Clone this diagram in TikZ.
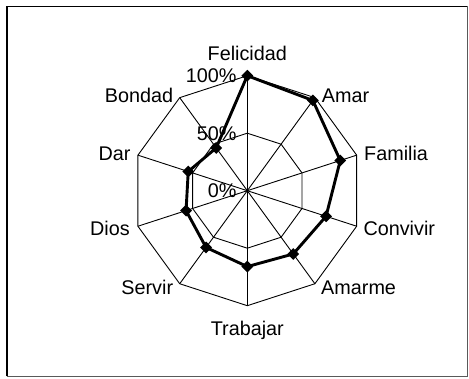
\documentclass[tikz,border=0pt]{standalone}
\usepackage{fontspec}
\setmainfont{Liberation Sans}
\usetikzlibrary{shapes.geometric,calc}
\begin{document}
\begin{tikzpicture}[x=1pt,y=1pt,
  gridline/.style={line width=0.9pt, black},
  dataline/.style={line width=2.9pt, black, line join=round},
  marker/.style={diamond, fill=black, inner sep=0pt, minimum width=12pt, minimum height=12pt},
  lbl/.style={font=\fontsize{19.8}{22}\selectfont, inner sep=0pt, text height=14pt, text depth=0pt},
]
\useasboundingbox (0,0) rectangle (469,-379);
\draw[black, line width=1.2pt] (7,-376.5) -- (7,-6.5) -- (467.5,-6.5);
\draw[black!65, line width=1.2pt] (467.5,-6.5) -- (467.5,-376.5) -- (7,-376.5);
\coordinate (c) at (247.3,-190.7);
\foreach \k in {0,...,9} {
  \coordinate (v\k) at ($(c)+(90-36*\k:115)$);
  \coordinate (h\k) at ($(c)+(90-36*\k:57.5)$);
}
\draw[gridline] (v0) -- (v1) -- (v2) -- (v3) -- (v4) -- (v5) -- (v6) -- (v7) -- (v8) -- (v9) -- cycle;
\draw[gridline] (h0) -- (h1) -- (h2) -- (h3) -- (h4) -- (h5) -- (h6) -- (h7) -- (h8) -- (h9) -- cycle;
\foreach \k in {0,...,9} \draw[gridline] (c) -- (v\k);
\foreach \k/\v in {0/1.0,1/0.97,2/0.85,3/0.72,4/0.68,5/0.66,6/0.61,7/0.56,8/0.54,9/0.46} {
  \coordinate (d\k) at ($(c)+(90-36*\k:115*\v)$);
}
\draw[dataline] (d0) -- (d1) -- (d2) -- (d3) -- (d4) -- (d5) -- (d6) -- (d7) -- (d8) -- (d9) -- cycle;
\foreach \k in {0,...,9} \node[marker] (p\k) at (d\k) {};
\node[lbl] (lFel) at (247.3,-53.3) {Felicidad};
\node[lbl, anchor=west] (lAmar) at (321.7,-95.7) {Amar};
\node[lbl, anchor=west] (lFam) at (364,-153.3) {Familia};
\node[lbl, anchor=west] (lConv) at (363.3,-228.7) {Convivir};
\node[lbl, anchor=west] (lAmarme) at (321,-287.3) {Amarme};
\node[lbl] (lTrab) at (247.3,-328.3) {Trabajar};
\node[lbl, anchor=east] (lServ) at (173.3,-287.3) {Servir};
\node[lbl, anchor=east] (lDios) at (130,-228.7) {Dios};
\node[lbl, anchor=east] (lDar) at (130.7,-153.3) {Dar};
\node[lbl, anchor=east] (lBond) at (173.3,-95.7) {Bondad};
\node[lbl, anchor=east] (t100) at (236.7,-75.7) {100\%};
\node[lbl, anchor=east] (t50) at (236.7,-133.2) {50\%};
\node[lbl, anchor=east] (t0) at (236.7,-190.7) {0\%};
\end{tikzpicture}
\end{document}
